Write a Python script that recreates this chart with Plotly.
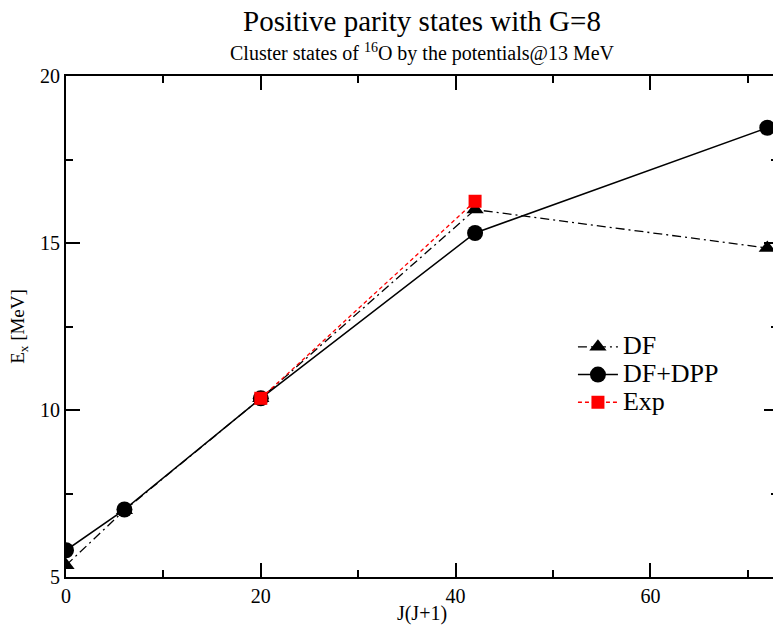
import plotly.graph_objects as go

jj = [0, 6, 20, 42, 72]
df_vals = [5.35, 7.0, 10.35, 16.0, 14.85]
dfdpp_vals = [5.8, 7.02, 10.35, 15.3, 18.45]
exp_x = [20, 42]
exp_vals = [10.35, 16.25]

FONT = "Liberation Serif, Times New Roman, serif"


def big(s):
    return "<span style='font-size:26px'>" + s + "</span>"


fig = go.Figure()
fig.add_trace(go.Scatter(
    x=jj, y=df_vals, name=big("DF"), mode="lines+markers",
    line=dict(color="black", width=1.3, dash="9px,4px,2px,4px"),
    marker=dict(symbol="triangle-up", size=15, color="black"),
))
fig.add_trace(go.Scatter(
    x=jj, y=dfdpp_vals, name=big("DF+DPP"), mode="lines+markers",
    line=dict(color="black", width=1.5),
    marker=dict(symbol="circle", size=16, color="black"),
))
fig.add_trace(go.Scatter(
    x=exp_x, y=exp_vals, name=big("Exp"), mode="lines+markers",
    line=dict(color="red", width=1.3, dash="4px,3px"),
    marker=dict(symbol="square", size=13, color="red"),
))

fig.update_layout(
    width=780, height=625,
    margin=dict(l=66, r=0, t=76, b=48),
    paper_bgcolor="white", plot_bgcolor="white",
    font=dict(family=FONT, color="black"),
    showlegend=True,
    legend=dict(
        x=0.712, y=0.497, xanchor="left", yanchor="top",
        font=dict(size=19, family=FONT),
        bgcolor="rgba(0,0,0,0)", tracegroupgap=0, itemwidth=40,
    ),
    annotations=[
        dict(text="Positive parity states with G=8", x=0.5, y=1.1098,
             xref="paper", yref="paper", xanchor="center", yanchor="middle",
             showarrow=False, font=dict(size=29, family=FONT)),
        dict(text="Cluster states of <sup>16</sup>O by the potentials@13 MeV", x=0.5, y=1.046,
             xref="paper", yref="paper", xanchor="center", yanchor="middle",
             showarrow=False, font=dict(size=20, family=FONT)),
    ],
    xaxis=dict(
        range=[0, 73.1], tickvals=[0, 20, 40, 60],
        ticks="inside", ticklen=14, tickwidth=1.5, tickcolor="black",
        showline=True, linecolor="black", linewidth=2, mirror="ticks",
        showgrid=False, zeroline=False,
        minor=dict(ticks="inside", ticklen=7, dtick=10, tick0=0, tickcolor="black", tickwidth=1.5, showgrid=False),
        tickfont=dict(size=20, family=FONT),
        title=dict(text="J(J+1)", font=dict(size=20, family=FONT), standoff=1),
    ),
    yaxis=dict(
        range=[5, 20], tickvals=[5, 10, 15, 20],
        ticks="inside", ticklen=14, tickwidth=1.5, tickcolor="black",
        showline=True, linecolor="black", linewidth=2, mirror="ticks",
        showgrid=False, zeroline=False,
        minor=dict(ticks="inside", ticklen=7, dtick=2.5, tick0=5, tickcolor="black", tickwidth=1.5, showgrid=False),
        tickfont=dict(size=20, family=FONT),
        title=dict(text="E<sub>x</sub> [MeV]", font=dict(size=19, family=FONT), standoff=10),
    ),
)

fig.write_html(
    "out.html",
    config={"displayModeBar": False},
    post_script="document.body.style.margin='0';document.body.style.overflow='hidden';",
)
